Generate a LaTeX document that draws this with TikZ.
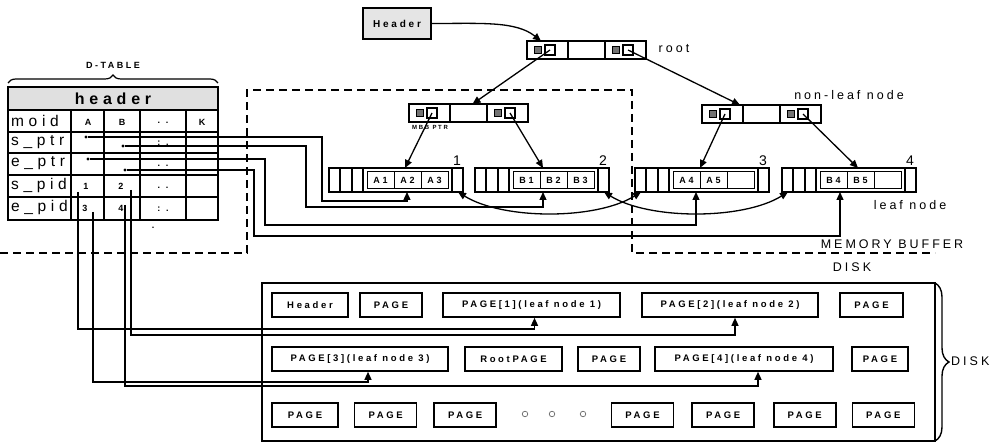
\documentclass[tikz,border=0pt]{standalone}
\usepackage{fontspec}
\setmainfont{Liberation Sans}
\newfontfamily\tagfont[LetterSpace=24]{Liberation Sans}
\newfontfamily\pagefont[LetterSpace=28]{Liberation Sans}
\newfontfamily\rowfont[LetterSpace=30]{Liberation Sans}
\usetikzlibrary{positioning,arrows.meta,decorations.pathreplacing}

\begin{document}
\begin{tikzpicture}[
  x=1pt, y=-1pt,
  arrow/.style={-{Triangle[length=8pt,width=7pt]}, line width=1.3pt},
  link/.style={{Triangle[length=8pt,width=7pt]}-{Triangle[length=8pt,width=7pt]}, line width=1.3pt},
  buffer/.style={line width=2pt, dash pattern=on 8pt off 5pt},
  tabline/.style={line width=1.5pt},
  page/.style={draw, line width=1.6pt, minimum width=62pt, minimum height=24pt, inner sep=0pt,
    font=\pagefont\bfseries\fontsize{9.5}{11}\selectfont},
  cell/.style={draw, line width=1.2pt, minimum height=18pt, inner sep=0pt, outer sep=0pt},
  hatch/.style={draw, line width=0.6pt, fill=black!55, minimum size=7.5pt, inner sep=0pt},
  ptr/.style={draw, line width=1.1pt, minimum size=10pt, inner sep=0pt},
  leafbox/.style={draw, line width=1.2pt, minimum width=134pt, minimum height=24pt, inner sep=0pt, outer sep=0pt},
  slot/.style={draw, line width=1pt, minimum width=27pt, minimum height=17pt, inner sep=0pt, outer sep=0pt,
    font=\pagefont\bfseries\fontsize{9}{10}\selectfont},
  tag/.style={font=\tagfont\fontsize{12.5}{14}\selectfont, inner sep=0pt},
  rowtxt/.style={font=\rowfont\fontsize{15.5}{17}\selectfont, inner sep=0pt, anchor=west},
  small/.style={font=\bfseries\fontsize{9}{10}\selectfont, inner sep=0pt},
  num/.style={font=\fontsize{14}{15}\selectfont, inner sep=0pt},
  dot/.style={circle, fill, minimum size=3.4pt, inner sep=0pt},
  ring/.style={circle, draw=black!60, line width=0.7pt, minimum size=5.5pt, inner sep=0pt}
]
\useasboundingbox (0,0) rectangle (1001,443);

% D-TABLE
\node[small, font=\pagefont\bfseries\fontsize{9}{11}\selectfont] (dtable) at (113,65) {D-TABLE};
\draw[line width=1.2pt, decorate, decoration={brace, amplitude=8pt}] (8,83) -- (218,83);
\fill[black!12] (8,87) rectangle (218,110);
\draw[line width=2.4pt] (8,87) rectangle (218,220);
\foreach \y in {110,132,153,175,197} \draw[tabline] (8,\y) -- (218,\y);
\foreach \x in {71,104,140,186} \draw[tabline] (\x,110) -- (\x,220);
\node[font=\rowfont\bfseries\fontsize{16}{18}\selectfont, inner sep=0pt] (hdrrow) at (113,99) {header};
\node[rowtxt] (moid) at (11,121) {moid};
\node[rowtxt] (sptr) at (11,142) {s\_ptr};
\node[rowtxt] (eptr) at (11,163) {e\_ptr};
\node[rowtxt] (spid) at (11,185) {s\_pid};
\node[rowtxt] (epid) at (11,207) {e\_pid};
\node[small] (colA) at (88,122) {A};
\node[small] (colB) at (122,122) {B};
\node[small] (colD) at (163,123) {.\hspace{6pt}.};
\node[small] (colK) at (202,122) {K};
\node[small] (dotsS) at (163,143) {:\hspace{6pt}.};
\node[small] (dotsE) at (163,166) {.\hspace{6pt}.};
\node[small] (dotsP) at (163,188) {.\hspace{6pt}.};
\node[small] (dotsQ) at (163,209) {:\hspace{6pt}.};
\node[small] (stray) at (153,228) {.};
\node[dot] (As) at (86,137) {};
\node[dot] (Bs) at (123,146) {};
\node[dot] (Ae) at (88,159) {};
\node[dot] (Be) at (125,170) {};
\node[small] (n1) at (86,186) {1};
\node[small] (n2) at (121,186) {2};
\node[small] (n3) at (85,208) {3};
\node[small] (n4) at (121,208) {4};
\coordinate (sA) at (78,192);
\coordinate (sB) at (131,190);
\coordinate (eA) at (93,212);
\coordinate (eB) at (125,205);

% memory buffer
\draw[buffer] (0,253) -- (247,253) -- (247,90) -- (632,90) -- (632,253) -- (935,253);
\node[tag] (memlbl) at (892,244) {MEMORY BUFFER};

% header and index nodes
\node[draw, line width=1.4pt, fill=black!10, minimum width=68pt, minimum height=31pt, inner sep=0pt,
  font=\pagefont\bfseries\fontsize{10}{11}\selectfont] (hdrbox) at (397,23.5) {Header};
\foreach \nm/\x/\y in {root/527/50, nlA/409/113, nlB/702/114}{
  \node[cell, minimum width=41pt, anchor=west] (\nm-L) at (\x,\y) {};
  \node[cell, minimum width=37pt, right=0pt of \nm-L] (\nm-M) {};
  \node[cell, minimum width=41pt, right=0pt of \nm-M] (\nm-R) {};
  \node[hatch] (\nm-Lh) at ([xshift=11pt]\nm-L.west) {};
  \node[ptr] (\nm-Lp) at ([xshift=23pt]\nm-L.west) {};
  \node[hatch] (\nm-Rh) at ([xshift=11pt]\nm-R.west) {};
  \node[ptr] (\nm-Rp) at ([xshift=23pt]\nm-R.west) {};
}
\node[tag] (rootlbl) at (674,49) {root};
\node[tag] (nonleaflbl) at (849,95) {non-leaf node};
\node[small, font=\pagefont\bfseries\fontsize{6}{7}\selectfont] (mbbptr) at (430,127) {MBB PTR};

% leaf nodes
\foreach \n/\x/\ka/\kb/\kc in {1/329/A1/A2/A3, 2/475/B1/B2/B3, 3/635/A4/A5/{}, 4/782/B4/B5/{}}{
  \node[leafbox] (leaf\n) at (\x+67,180) {};
  \draw[line width=1.2pt] (\x+11,168) -- ++(0,24) (\x+23,168) -- ++(0,24)
    (\x+34,168) -- ++(0,24) (\x+123,168) -- ++(0,24);
  \node[slot] (leaf\n-a) at (\x+51.5,180) {\ka};
  \node[slot, right=0pt of leaf\n-a] (leaf\n-b) {\kb};
  \node[slot, right=0pt of leaf\n-b] (leaf\n-c) {\kc};
  \node[num, anchor=south] (leafno\n) at (\x+128,166) {\n};
}
\node[tag] (leaflbl) at (910,205) {leaf node};

\draw[arrow] (hdrbox.east) .. controls +(50,0) and +(-25,-20) .. ([xshift=14pt]root-L.north west);
\draw[arrow] (root-Lp.center) -- ([xshift=4pt]nlA-M.north);
\draw[arrow] (root-Rp.center) -- ([xshift=-3pt]nlB-M.north west);
\draw[arrow] (nlA-Lp.center) -- ([xshift=9pt]leaf1.north);
\draw[arrow] (nlA-Rp.center) -- ([xshift=1pt]leaf2.north);
\draw[arrow] (nlB-Lp.center) -- ([xshift=-2pt]leaf3.north);
\draw[arrow] (nlB-Rp.center) -- ([xshift=9pt]leaf4.north);
\draw[link] ([xshift=-5pt]leaf1.south east) .. controls +(45,28) and +(-45,28) .. ([xshift=6pt]leaf3.south west);
\draw[link] ([xshift=-5pt]leaf2.south east) .. controls +(45,28) and +(-45,28) .. ([xshift=6pt]leaf4.south west);

% table pointers to leaves
\draw[arrow] (As) -| (322,201) -| ([xshift=11pt]leaf1.south);
\draw[arrow] (Bs) -| (306,207) -| ([xshift=1pt]leaf2.south);
\draw[arrow] (Ae) -| (265,225) -| ([xshift=-6pt]leaf3.south);
\draw[arrow] (Be) -| (254,236) -| ([xshift=-9pt]leaf4.south);

% disk
\node[tag] (disktop) at (852,267) {DISK};
\draw[line width=1.4pt] (262,283) rectangle (935,441);
\draw[line width=1.4pt, decorate, decoration={brace, amplitude=14pt}] (935,283) -- (935,441);
\node[tag, anchor=west] (diskside) at (951,361) {DISK};

\node[page, minimum width=76pt] (dhead) at (310,305) {Header};
\node[page] (r1b) at (391,305) {PAGE};
\node[page, minimum width=177pt] (p1) at (531.5,305) {PAGE[1](leaf node 1)};
\node[page, minimum width=176pt] (p2) at (730,305) {PAGE[2](leaf node 2)};
\node[page, minimum width=63pt] (r1e) at (871.5,305) {PAGE};

\node[page, minimum width=176pt] (p3) at (360,359) {PAGE[3](leaf node 3)};
\node[page, minimum width=97pt] (rootpg) at (513.5,359) {RootPAGE};
\node[page] (r2c) at (609,359) {PAGE};
\node[page, minimum width=178pt] (p4) at (744,359) {PAGE[4](leaf node 4)};
\node[page, minimum width=56pt] (r2e) at (880,359) {PAGE};

\node[page, minimum width=66pt] (r3a) at (305,415) {PAGE};
\node[page, right=15pt of r3a] (r3b) {PAGE};
\node[page, right=16pt of r3b] (r3c) {PAGE};
\node[ring] (ring1) at (525,414) {};
\node[ring] (ring2) at (552,414) {};
\node[ring] (ring3) at (583,414) {};
\node[page] (r3d) at (642.5,415) {PAGE};
\node[page, right=17pt of r3d] (r3e) {PAGE};
\node[page, right=18pt of r3e] (r3f) {PAGE};
\node[page, right=15pt of r3f] (r3g) {PAGE};

% table page ids to disk pages
\draw[arrow] (sA) -- ++(0,137) -| ([xshift=3pt]p1.south);
\draw[arrow] (sB) -- ++(0,145) -| ([xshift=5pt]p2.south);
\draw[arrow] (eA) -- ++(0,170) -| ([xshift=8pt]p3.south);
\draw[arrow] (eB) -- ++(0,181) -| ([xshift=14pt]p4.south);
\end{tikzpicture}
\end{document}
